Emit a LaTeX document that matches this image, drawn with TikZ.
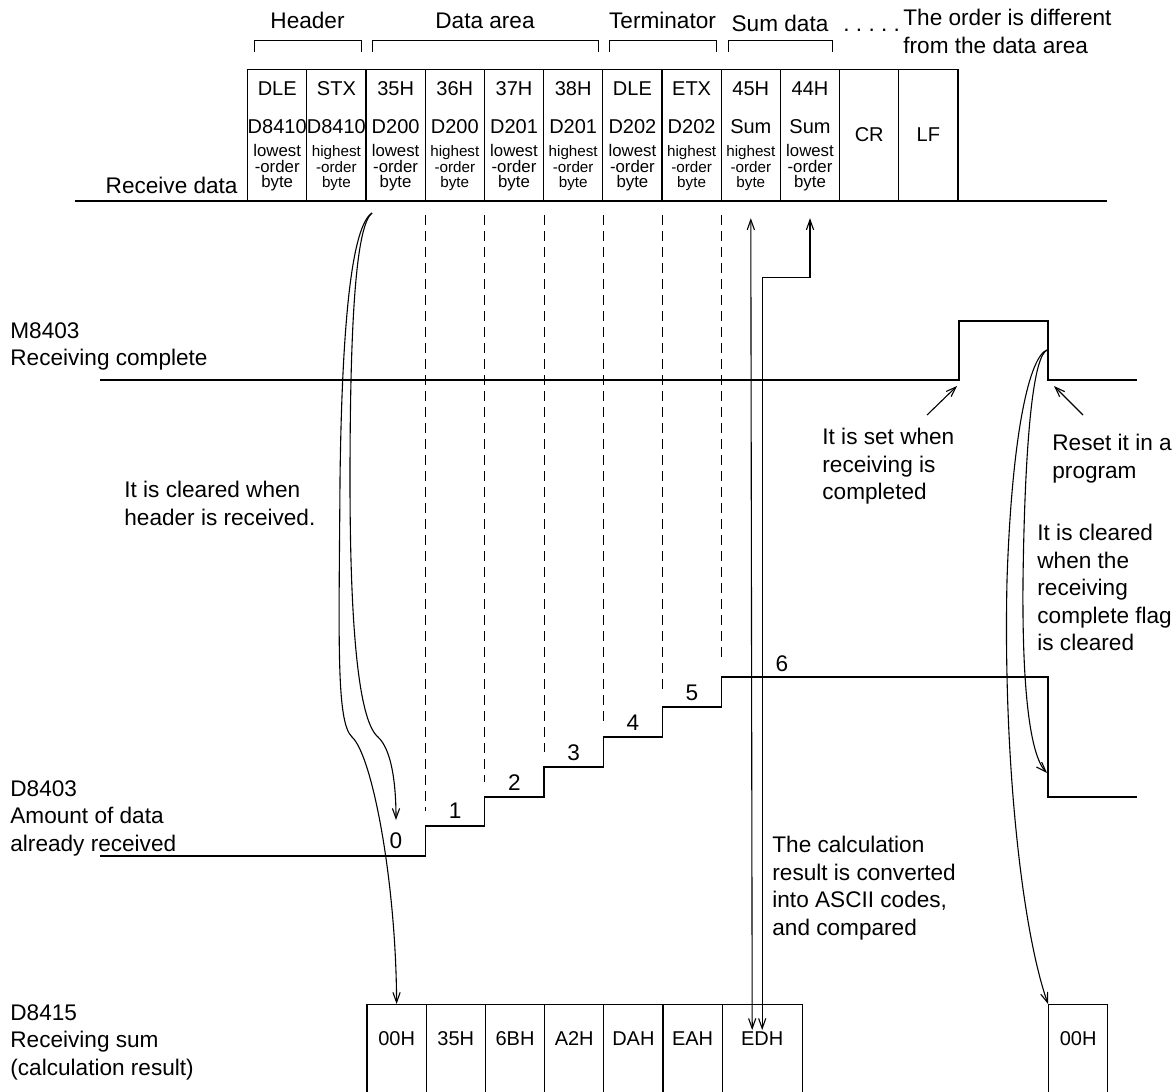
\documentclass[tikz,border=0pt]{standalone}
\usepackage{fontspec}
\setmainfont{Liberation Sans}
\usetikzlibrary{arrows.meta, positioning, calc}

\tikzset{
  sig/.style={line width=0.65pt},
  cellbox/.style={draw, line width=0.6pt, anchor=north west, inner sep=0pt,
    minimum width=29.6pt, minimum height=65.5pt},
  sumbox/.style={cellbox, minimum height=50pt},
  txt/.style={font=\fontsize{11.3}{13.75}\selectfont, inner sep=0pt},
  note/.style={txt, align=left, anchor=north west},
  celltxt/.style={font=\fontsize{10}{12}\selectfont, inner sep=0pt, anchor=base},
  lowest-txt/.style={font=\fontsize{8.4}{10}\selectfont, inner sep=0pt, anchor=base},
  highest-txt/.style={font=\fontsize{7.6}{10}\selectfont, inner sep=0pt, anchor=base},
  gridline/.style={line width=0.5pt, dash pattern=on 5pt off 3pt},
  bracket/.style={line width=0.5pt},
  arrow/.style={-{Straight Barb[length=5pt, width=3.6pt]}, line width=0.55pt},
  arrowb/.style={{Straight Barb[length=5pt, width=3.6pt]}-{Straight Barb[length=5pt, width=3.6pt]}, line width=0.55pt},
}

\begin{document}
\begin{tikzpicture}[x=0.5pt, y=-0.5pt]
\useasboundingbox (0,0) rectangle (1176,1091);

\node[txt, anchor=base] (hdr) at (307.5,29) {Header};
\node[txt, anchor=base] (dat) at (485,29) {Data area};
\node[txt, anchor=base] (trm) at (662.5,29) {Terminator};
\node[txt, anchor=base] (sumd) at (780,32) {Sum data};
\node[txt, anchor=base west] (dots) at (843,32) {.\ .\ .\ .\ .};
\node[note] (ordnote) at (903,9) {The order is different\\from the data area};
\foreach \a/\b in {254/361, 372/598, 609/716, 728/832}
  \draw[bracket] (\a,52) |- (\b,41) -- (\b,52);

\foreach \i/\code/\reg/\word in {1/DLE/D8410/lowest, 2/STX/D8410/highest, 3/35H/D200/lowest,
    4/36H/D200/highest, 5/37H/D201/lowest, 6/38H/D201/highest, 7/DLE/D202/lowest,
    8/ETX/D202/highest, 9/45H/Sum/highest, 10/44H/Sum/lowest}{
  \node[cellbox] (r\i) at ({247+59.2*(\i-1)},69) {};
  \node[celltxt] (r\i-a) at ($(r\i.north)+(0,27)$) {\code};
  \node[celltxt] (r\i-b) at ($(r\i.north)+(0,65)$) {\reg};
  \node[\word-txt] (r\i-c) at ($(r\i.north)+(0,88)$) {\word};
  \node[\word-txt] (r\i-d) at ($(r\i.north)+(0,104)$) {-order};
  \node[\word-txt] (r\i-e) at ($(r\i.north)+(0,119)$) {byte};
}
\node[cellbox] (r11) at (839,69) {};
\node[celltxt, anchor=center] (r11-a) at (r11) {CR};
\node[cellbox] (r12) at (898.2,69) {};
\node[celltxt, anchor=center] (r12-a) at (r12) {LF};

\node[txt, anchor=base east] (rcv) at (238,193) {Receive data};
\draw[sig] (75,201) -- (1107,201);

\node[note] (m8403) at (10,322) {M8403\\Receiving complete};
\draw[sig] (100,380) -- (959,380) -- (959,321) -- (1048,321) -- (1048,380) -- (1137,380);

\node[note] (d8403) at (10,780) {D8403\\Amount of data\\already received};
\draw[sig] (100,856) -| (425.6,826) -| (484.8,797) -| (544,767) -| (603.2,737)
  -| (662.4,707) -| (721.6,677) -| (1048,797) -- (1137,797);
\foreach \x/\e in {425.6/811, 484.8/782, 544/752, 603.2/722, 662.4/692, 721.6/662}
  \draw[gridline] (\x,215) -- (\x,\e);
\foreach \n/\x/\y in {0/396/848, 1/455.2/818, 2/514.4/790, 3/573.6/760, 4/632.8/730, 5/692/700, 6/782/671}
  \node[txt, anchor=base] (n\n) at (\x,\y) {\n};

\node[note] (d8415) at (10,1004) {D8415\\Receiving sum\\(calculation result)};
\foreach \i/\v in {1/00H, 2/35H, 3/6BH, 4/A2H, 5/DAH, 6/EAH}{
  \node[sumbox] (s\i) at ({366.4+59.2*(\i-1)},1004) {};
  \node[celltxt] (s\i-a) at ($(s\i.north)+(0,41)$) {\v};
}
\node[sumbox, minimum width=40pt] (s7) at (721.6,1004) {};
\node[celltxt] (s7-a) at ($(s7.north)+(0,41)$) {EDH};
\node[sumbox] (s8) at (1048,1004) {};
\node[celltxt] (s8-a) at ($(s8.north)+(0,41)$) {00H};

\node[note] (hdrnote) at (124,481) {It is cleared when\\header is received.};
\node[note] (setnote) at (822,428) {It is set when\\receiving is\\completed};
\node[note] (rstnote) at (1052,434) {Reset it in a\\program};
\node[note] (clrnote) at (1037,524) {It is cleared\\when the\\receiving\\complete flag\\is cleared};
\node[note] (calcnote) at (772,836) {The calculation\\result is converted\\into ASCII codes,\\and compared};

\coordinate (hdrend) at (372,213);
\coordinate (zero) at (396,820);
\draw[arrow] (hdrend) .. controls (352,226) and (342,320) .. (340,480)
  .. controls (339,640) and (336,722) .. (352,737)
  .. controls (372,755) and (396,880) .. (s1.north);
\draw[arrow] (hdrend) .. controls (356,226) and (350,320) .. (350,480)
  .. controls (350,640) and (360,722) .. (378,737)
  .. controls (392,750) and (396,785) .. (zero);

\coordinate (rstend) at (1047,350);
\coordinate (clrend) at (1047,773);
\draw[arrow] (rstend) .. controls (1030,356) and (1012,430) .. (1007,580)
  .. controls (1003,760) and (1022,930) .. (s8.north west);
\draw[arrow] (rstend) .. controls (1034,356) and (1025,430) .. (1023,580)
  .. controls (1022,690) and (1030,755) .. (clrend);

\coordinate (t45) at ([yshift=-8.5pt]r9.south);
\coordinate (t44) at ([yshift=-8.5pt]r10.south);
\draw[arrowb] ([xshift=-5pt, yshift=-13pt]s7.north) -- (t45);
\draw[arrowb] ([yshift=-13pt]s7.north) |- ($(t44)+(0,59)$) -- (t44);

\coordinate (rise) at (957,386);
\coordinate (fall) at (1054,386);
\draw[arrow] (927,415) -- (rise);
\draw[arrow] (1083,415) -- (fall);
\end{tikzpicture}
\end{document}
